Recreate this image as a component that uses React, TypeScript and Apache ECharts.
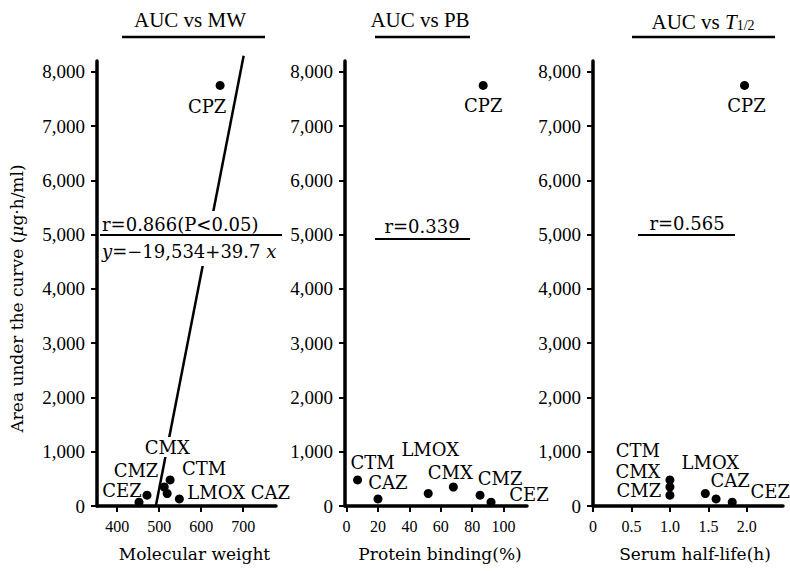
import React, { useEffect, useRef } from 'react';
import * as echarts from 'echarts';

// ---- data ----
const drugs = ['CEZ', 'CMZ', 'CMX', 'LMOX', 'CTM', 'CAZ', 'CPZ'];
const auc = [70, 200, 350, 230, 480, 130, 7750]; // µg·h/ml
const molecularWeight = [452, 471, 512, 519, 526, 548, 645];
const proteinBinding = [92, 85, 68, 52, 7, 20, 87]; // %
const halfLife = [1.81, 1.0, 1.0, 1.46, 1.0, 1.6, 1.97]; // h

const aucTicks = [0, 1000, 2000, 3000, 4000, 5000, 6000, 7000, 8000];
const mwTicks = [400, 500, 600, 700];
const pbTicks = [0, 20, 40, 60, 80, 100];
const hlTicks = [0, 0.5, 1.0, 1.5, 2.0];

// regression y = -19,534 + 39.7x, drawn between these MW values
const regIntercept = -19534;
const regSlope = 39.7;
const regRange = [492, 701];

const rValues = ['0.866', '0.339', '0.565'];

// label offsets (px) relative to each dot, per panel
const offMW = [[-17, -12], [-11, -25], [3, -40], [49, -1], [34, -11], [91, -6], [-13, 21]];
const offPB = [[38, -8], [20, -17], [-3, -15], [2, -44], [15, -17], [10, -16], [0, 20]];
const offHL = [[38, -11], [-31, -5], [-32, -16], [5, -31], [-32, -29], [14, -18], [2, 20]];

const FT = 'Liberation Serif, serif';
const FD = 'DejaVu Serif, serif';

function xAxis(gridIndex: number, min: number, max: number, ticks: number[], name: string, fmt: (v: number) => string, namePad: number) {
  return {
    type: 'value', gridIndex, min, max,
    axisLine: { show: true, onZero: false, lineStyle: { color: '#000', width: 3.5 } },
    axisTick: { show: true, length: 6, customValues: ticks, lineStyle: { color: '#000', width: 2 } },
    axisLabel: { customValues: ticks, margin: 12, fontFamily: FT, fontSize: 16, color: '#000', formatter: fmt },
    splitLine: { show: false },
    name, nameLocation: 'middle', nameGap: 39,
    nameTextStyle: { fontFamily: FD, fontSize: 17, color: '#000', padding: [0, 0, 0, namePad] },
  };
}

function yAxis(gridIndex: number, withName: boolean) {
  const a: any = {
    type: 'value', gridIndex, min: 0, max: 8200,
    axisLine: { show: true, onZero: false, lineStyle: { color: '#000', width: 3.5 } },
    axisTick: { show: true, length: 6, customValues: aucTicks, lineStyle: { color: '#000', width: 2 } },
    axisLabel: { customValues: aucTicks, margin: 12, fontFamily: FT, fontSize: 19, color: '#000',
      formatter: (v: number) => v.toLocaleString('en-US') },
    splitLine: { show: false },
  };
  if (withName) {
    a.name = 'Area under the curve ({i|μ}g·h/ml)';
    a.nameLocation = 'middle';
    a.nameGap = 72;
    a.nameRotate = 90;
    a.nameTextStyle = { fontFamily: FD, fontSize: 17, color: '#000', padding: [0, 30, 0, 0],
      rich: { i: { fontFamily: FD, fontSize: 17, fontStyle: 'italic', color: '#000' } } };
  }
  return a;
}

function scatter(idx: number, xs: number[], offs: number[][], bgFor: string[]) {
  return {
    type: 'scatter', xAxisIndex: idx, yAxisIndex: idx, z: 3,
    symbolSize: 9, itemStyle: { color: '#000', opacity: 1 },
    data: drugs.map((d, i) => ({
      name: d,
      value: [xs[i], auc[i]],
      label: {
        show: true, position: 'inside', offset: offs[i], formatter: '{b}',
        fontFamily: FD, fontSize: 18, color: '#000',
        backgroundColor: bgFor.includes(d) ? '#fff' : 'transparent', padding: [1, 2],
      },
    })),
  };
}

function title(cx: number, text: string, rich?: any) {
  return {
    type: 'text', x: cx, y: 20, z: 60,
    style: { text, fill: '#000', fontFamily: FT, fontSize: 21, align: 'center', verticalAlign: 'middle',
      textAlign: 'center', textVerticalAlign: 'middle', rich },
  };
}
function hline(x1: number, x2: number, y: number, w: number) {
  return { type: 'line', z: 60, shape: { x1, y1: y, x2, y2: y }, style: { stroke: '#000', lineWidth: w } };
}
function annText(x: number, y: number, text: string, align: string, rich?: any) {
  return {
    type: 'text', x, y, z: 60,
    style: { text, fill: '#000', fontFamily: FD, fontSize: 18, align, verticalAlign: 'middle',
      textAlign: align, textVerticalAlign: 'middle', rich },
  };
}

export default function App() {
  const ref = useRef<HTMLDivElement>(null);
  useEffect(() => {
    const chart = echarts.init(ref.current!, null, { renderer: 'svg' });
    const hlFmt = (v: number) => (v === 0 ? '0' : v.toFixed(1));
    const option: any = {
      animation: false,
      backgroundColor: '#fff',
      grid: [
        { left: 97, top: 61, width: 179, height: 445 },
        { left: 345, top: 61, width: 182, height: 445 },
        { left: 593, top: 61, width: 190, height: 445 },
      ],
      xAxis: [
        xAxis(0, 352, 778, mwTicks, 'Molecular weight', (v) => String(v), 16),
        xAxis(1, -1, 114.9, pbTicks, 'Protein binding(%)', (v) => String(v), 8),
        xAxis(2, 0, 2.47, hlTicks, 'Serum half-life(h)', hlFmt, 14),
      ],
      yAxis: [yAxis(0, true), yAxis(1, false), yAxis(2, false)],
      series: [
        {
          type: 'line', xAxisIndex: 0, yAxisIndex: 0, z: 1, clip: false, silent: true,
          symbol: 'none', lineStyle: { color: '#000', width: 2.5 },
          data: regRange.map((x) => [x, regIntercept + regSlope * x]),
        },
        scatter(0, molecularWeight, offMW, ['CMX']),
        scatter(1, proteinBinding, offPB, []),
        scatter(2, halfLife, offHL, []),
      ],
      graphic: [
        title(190, 'AUC vs MW'),
        title(420, 'AUC vs PB'),
        title(703, '{n|AUC vs }{i|T}{s|1/2}', {
          n: { fontFamily: FT, fontSize: 21, fill: '#000', verticalAlign: 'bottom', lineHeight: 24 },
          i: { fontFamily: FT, fontSize: 21, fontStyle: 'italic', fill: '#000', verticalAlign: 'bottom', lineHeight: 24 },
          s: { fontFamily: FT, fontSize: 14, fill: '#000', verticalAlign: 'bottom', lineHeight: 22 },
        }),
        hline(122, 265, 37, 2.5),
        hline(375, 470, 37, 2.5),
        hline(632, 775, 37, 2.5),
        // panel 1 annotation
        { type: 'rect', z: 50, shape: { x: 100, y: 211, width: 183, height: 55 }, style: { fill: '#fff' } },
        annText(102, 224, 'r=' + rValues[0] + '(P<0.05)', 'left'),
        hline(100, 282, 235, 2),
        annText(102, 251, '{i|y}=−19,534+39.7{i| x}', 'left', {
          i: { fontFamily: FD, fontSize: 18, fontStyle: 'italic', fill: '#000' },
        }),
        // panel 2 annotation
        annText(422, 226, 'r=' + rValues[1], 'center'),
        hline(375, 470, 239, 2),
        // panel 3 annotation
        annText(687, 223, 'r=' + rValues[2], 'center'),
        hline(638, 735, 235, 2),
      ],
    };
    chart.setOption(option);
    return () => chart.dispose();
  }, []);
  return <div ref={ref} style={{ position: 'fixed', left: 0, top: 0, width: 790, height: 571 }} />;
}
